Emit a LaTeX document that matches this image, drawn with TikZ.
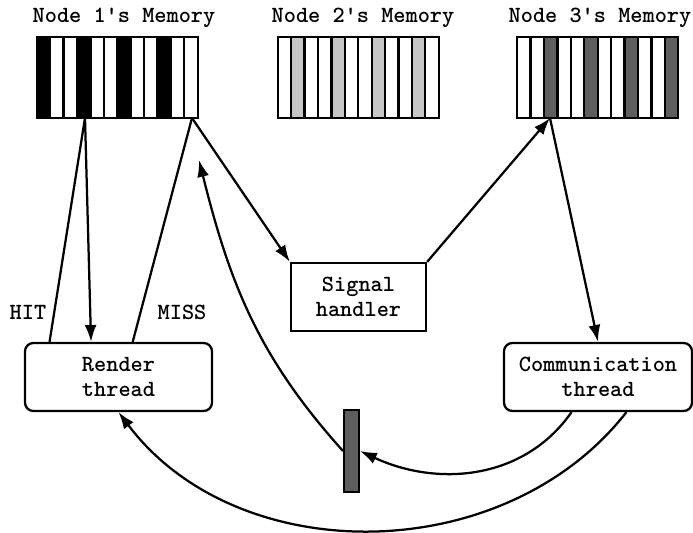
\documentclass[tikz,border=0pt]{standalone}
\usetikzlibrary{arrows.meta,calc}

\definecolor{cellgray}{HTML}{C6C6C6}
\definecolor{celldark}{HTML}{5E5E5E}

\newcommand*{\cellw}{13.42}
\newcommand*{\cellh}{81}

\begin{document}
\begin{tikzpicture}
[
	x=0.025cm,
	y=-0.025cm,
	font=\ttfamily\bfseries\fontsize{16.5}{18}\selectfont,
	membox/.style={rectangle,inner sep=0pt,minimum width=4.025cm,minimum height=2.025cm},
	cellbox/.style={draw,line width=1.6pt},
	thread/.style={draw,rounded corners=6pt,line width=1.6pt,minimum width=4.7cm,minimum height=1.7cm,align=center,inner sep=2pt},
	handler/.style={draw,line width=1.6pt,minimum width=3.375cm,minimum height=1.7cm,align=center,inner sep=2pt},
	buffer/.style={draw,fill=celldark,line width=1.4pt,minimum width=0.375cm,minimum height=2.05cm,inner sep=0pt},
	link/.style={line width=1.6pt},
	arr/.style={link,-{Latex[length=12pt,width=8.5pt]}},
	tag/.style={inner sep=0pt}
]

	\useasboundingbox (0,0) rectangle (693,533);

	% memories
	\node[tag] (t1) at (124,18) {Node 1's Memory};
	\node[tag] (t2) at (363,18) {Node 2's Memory};
	\node[tag] (t3) at (600,18) {Node 3's Memory};
	\node[membox] (mem1) at (117.5,77.5) {};
	\node[membox] (mem2) at (358.5,77.5) {};
	\node[membox] (mem3) at (598,77.5) {};
	\foreach \n/\col/\off in {1/black/0,2/cellgray/1,3/celldark/2}
		\foreach \i in {0,...,11} {
			\pgfmathtruncatemacro{\k}{mod(\i,3)}
			\ifnum\k=\off \def\cellcol{\col}\else\def\cellcol{white}\fi
			\draw[cellbox,fill=\cellcol] ($(mem\n.north west)+(\i*\cellw,0)$) rectangle ++(\cellw,\cellh);
		}

	% threads
	\node[thread,minimum width=4.675cm] (render) at (118.5,377) {Render\\thread};
	\node[thread] (comm) at (598,377) {Communication\\thread};
	\node[handler] (sig) at (358.5,297) {Signal\\handler};
	\node[buffer] (bar) at (351.5,451) {};

	\coordinate (m1a) at (85,118);
	\coordinate (m1b) at (192,118);
	\coordinate (m3a) at (550,118);
	\coordinate (ret) at (199,160);

	% hit / miss
	\draw[link] (m1a) -- (render.153);
	\draw[arr] (m1a) -- (render.128);
	\draw[link] (render.68) -- (m1b);
	\node[tag] (hit) at (28,312) {HIT};
	\node[tag] (miss) at (182,312) {MISS};

	% signal path
	\draw[arr] (m1b) -- (sig.north west);
	\draw[arr] (sig.north east) -- (m3a);
	\draw[arr] (m3a) -- (comm.north);

	% replies
	\draw[arr] (bar.west) to[out=132,in=-76] (ret);
	\draw[arr] (comm.-127) to[out=-125,in=-25] (bar.east);
	\draw[arr] (comm.-51) to[out=-128,in=-53] (render.south);

\end{tikzpicture}
\end{document}
